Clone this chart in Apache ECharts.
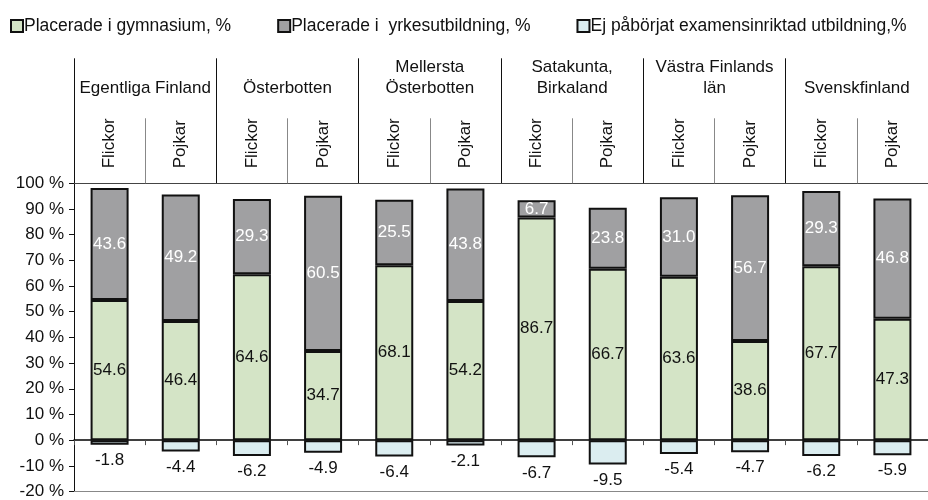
<!DOCTYPE html>
<html>
<head>
<meta charset="utf-8">
<script src="https://cdn.jsdelivr.net/npm/echarts@6/dist/echarts.min.js"></script>
<style>html,body{margin:0;padding:0;background:#fff}#c{width:928px;height:500px}</style>
</head>
<body>
<div id="c"></div>
<script>
const genders = ['Flickor','Pojkar','Flickor','Pojkar','Flickor','Pojkar','Flickor','Pojkar','Flickor','Pojkar','Flickor','Pojkar'];
const regions = ['Egentliga Finland','Österbotten','Mellersta\nÖsterbotten','Satakunta,\nBirkaland','Västra Finlands\nlän','Svenskfinland'];
const gymnasium = [54.6, 46.4, 64.6, 34.7, 68.1, 54.2, 86.7, 66.7, 63.6, 38.6, 67.7, 47.3];
const yrkes = [43.6, 49.2, 29.3, 60.5, 25.5, 43.8, 6.7, 23.8, 31.0, 56.7, 29.3, 46.8];
const ejPaborjat = [-1.8, -4.4, -6.2, -4.9, -6.4, -2.1, -6.7, -9.5, -5.4, -4.7, -6.2, -5.9];
const seriesNames = ['Placerade i gymnasium, %', 'Placerade i  yrkesutbildning, %', 'Ej påbörjat examensinriktad utbildning,%'];

const FONT = "'Liberation Sans', Arial, sans-serif";
const chart = echarts.init(document.getElementById('c'), null, {renderer: 'canvas'});
const fmt = p => Number(p.value).toFixed(1);
const barBase = {
  type: 'bar', stack: 'total', barWidth: 38,
  itemStyle: {borderColor: '#111', borderWidth: 2},
};
chart.setOption({
  animation: false,
  textStyle: {fontFamily: FONT},
  legend: {
    left: 5, top: 12, itemWidth: 12, itemHeight: 12, itemGap: 46, icon: 'rect',
    textStyle: {fontFamily: FONT, fontSize: 17.5, color: '#111', padding: [0, 0, 0, -4]},
    data: seriesNames
  },
  grid: {left: 74, right: -6, top: 183.3, bottom: 4.7, containLabel: false},
  xAxis: [
    {
      type: 'category', data: genders, position: 'bottom',
      axisLine: {onZero: true, lineStyle: {color: '#000', width: 1.5}},
      axisTick: {show: true, length: 5, lineStyle: {color: '#555'}},
      axisLabel: {show: false}
    },
    {
      type: 'category', data: genders, position: 'top', offset: 0,
      axisLine: {show: true, onZero: false, lineStyle: {color: '#444', width: 1}},
      axisTick: {show: true, length: 65, lineStyle: {color: '#888', width: 1}},
      axisLabel: {show: true, interval: 0, rotate: -90, margin: 15, fontSize: 17, color: '#111', fontFamily: FONT}
    },
    {
      type: 'category', data: regions, position: 'top', offset: 0,
      axisLine: {show: false, onZero: false},
      axisTick: {show: true, length: 125, lineStyle: {color: '#111', width: 1}},
      axisLabel: {show: true, interval: 0, margin: 84, fontSize: 17, lineHeight: 21, color: '#111', fontFamily: FONT}
    },
    {
      type: 'category', data: genders, position: 'bottom', offset: 0,
      axisLine: {show: true, onZero: false, lineStyle: {color: '#888', width: 1}},
      axisTick: {show: false}, axisLabel: {show: false}
    }
  ],
  yAxis: {
    type: 'value', min: -20, max: 100, interval: 10,
    axisLine: {show: true, lineStyle: {color: '#111', width: 1}},
    axisTick: {show: true, length: 5, lineStyle: {color: '#111'}},
    splitLine: {show: false},
    axisLabel: {formatter: '{value} %', fontSize: 17, color: '#111', margin: 10, fontFamily: FONT}
  },
  series: [
    Object.assign({}, barBase, {
      name: seriesNames[0], data: gymnasium,
      itemStyle: {color: '#d4e4c6', borderColor: '#111', borderWidth: 2},
      label: {show: true, position: 'inside', formatter: fmt, color: '#111', fontSize: 17, fontFamily: FONT}
    }),
    Object.assign({}, barBase, {
      name: seriesNames[1], data: yrkes,
      itemStyle: {color: '#a0a0a2', borderColor: '#111', borderWidth: 2},
      label: {show: true, position: 'inside', formatter: fmt, color: '#fff', fontSize: 17, fontFamily: FONT}
    }),
    Object.assign({}, barBase, {
      name: seriesNames[2], data: ejPaborjat,
      itemStyle: {color: '#dbedf0', borderColor: '#111', borderWidth: 2},
      label: {show: true, position: 'bottom', distance: 7, formatter: fmt, color: '#111', fontSize: 17, fontFamily: FONT}
    })
  ]
});
</script>
</body>
</html>
